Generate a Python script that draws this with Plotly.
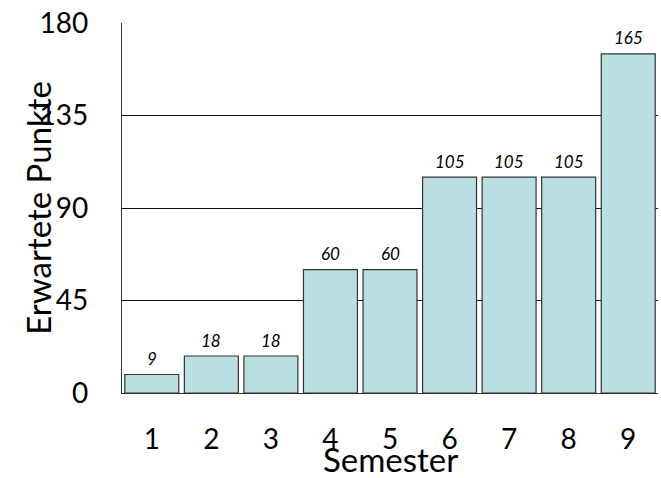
import plotly.graph_objects as go

semesters = ["1", "2", "3", "4", "5", "6", "7", "8", "9"]
points = [9, 18, 18, 60, 60, 105, 105, 105, 165]
y_ticks = [0, 45, 90, 135, 180]

FONT = "Lato"

fig = go.Figure()
fig.add_trace(go.Bar(
    x=semesters, y=points,
    marker=dict(color="#BADFE3", line=dict(color="#333333", width=1.2)),
    hoverinfo="skip",
))

value_labels = [
    dict(x=i, y=v, xref="x", yref="y", text=str(v), showarrow=False,
         yanchor="middle", yshift=16,
         font=dict(family=FONT, size=17, color="black", style="italic"))
    for i, v in enumerate(points)
]

fig.update_layout(
    width=661, height=478,
    margin=dict(l=122, r=3, t=23, b=85),
    paper_bgcolor="white", plot_bgcolor="white",
    bargap=0.094,
    showlegend=False,
    font=dict(family=FONT, color="black"),
    xaxis=dict(
        type="category",
        range=[-0.5, len(semesters) - 0.5],
        showgrid=False,
        showline=True, linecolor="#333333", linewidth=1.2,
        ticks="", tickfont=dict(size=28, family=FONT),
        ticklabelstandoff=21,
    ),
    yaxis=dict(
        range=[0, 180], tickvals=y_ticks,
        showgrid=True, gridcolor="#111111", gridwidth=1.2,
        showline=True, linecolor="#333333", linewidth=1.2,
        zeroline=False,
        ticks="", tickfont=dict(size=28, family=FONT),
        ticklabelstandoff=27,
    ),
    annotations=value_labels + [
        dict(text="Erwartete Punkte", xref="paper", yref="paper",
             x=-0.157, y=0.5, xanchor="center", yanchor="middle",
             textangle=-90, showarrow=False,
             font=dict(size=33, family=FONT, color="black")),
        dict(text="Semester", xref="paper", yref="paper",
             x=0.5, y=-0.178, xanchor="center", yanchor="middle",
             showarrow=False,
             font=dict(size=33, family=FONT, color="black")),
    ],
)

fig.write_html("out.html", config={"displayModeBar": False},
               post_script="document.body.style.margin='0';")
